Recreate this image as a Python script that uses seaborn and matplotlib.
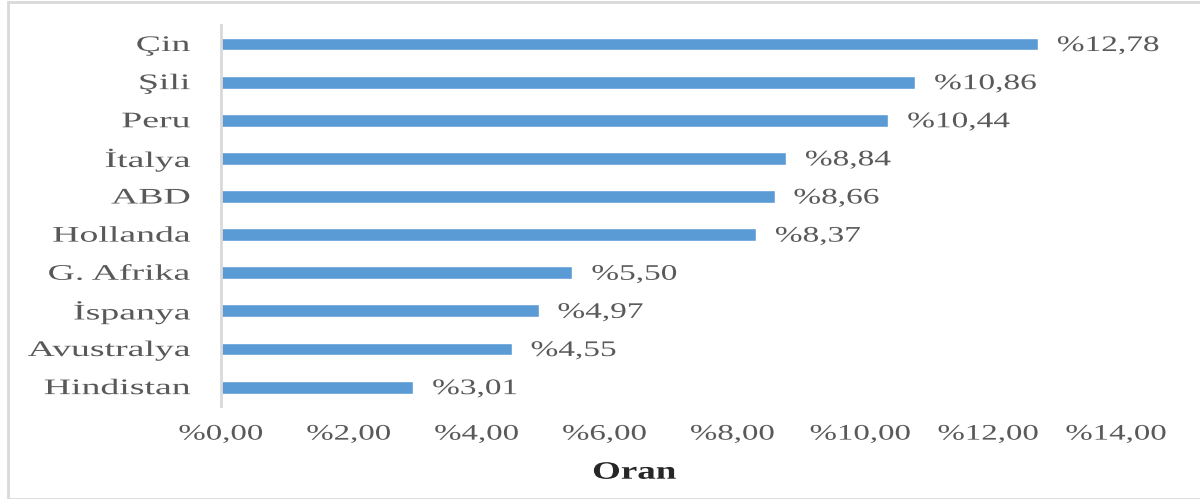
import pandas as pd
import seaborn as sns
import matplotlib.pyplot as plt
from matplotlib.patches import Rectangle
from matplotlib.patheffects import AbstractPathEffect
from matplotlib.transforms import Affine2D

# data
ulkeler = ["Çin", "Şili", "Peru", "İtalya", "ABD", "Hollanda",
           "G. Afrika", "İspanya", "Avustralya", "Hindistan"]
oranlar = [12.78, 10.86, 10.44, 8.84, 8.66, 8.37, 5.50, 4.97, 4.55, 3.01]
xticks = [0, 2, 4, 6, 8, 10, 12, 14]

df = pd.DataFrame({"Ulke": ulkeler, "Oran": oranlar})


class Stretch(AbstractPathEffect):
    # widens text horizontally, the original fonts look stretched
    def __init__(self, sx, anchor="left"):
        super().__init__()
        self.sx = sx
        self.anchor = anchor

    def draw_path(self, renderer, gc, tpath, affine, rgbFace=None):
        ext = tpath.get_extents(affine)
        if self.anchor == "left":
            x0 = ext.x0
        elif self.anchor == "right":
            x0 = ext.x1
        else:
            x0 = (ext.x0 + ext.x1) / 2
        t = affine + Affine2D().translate(-x0, 0).scale(self.sx, 1).translate(x0, 0)
        renderer.draw_path(gc, tpath, t, rgbFace)


sns.set_style("white")
plt.rcParams["font.family"] = ["Liberation Serif", "DejaVu Serif"]

gri = "#595959"
fig = plt.figure(figsize=(12, 4.99), dpi=100)
ax = fig.add_axes([0.184, 0.186, 0.746, 0.764])

sns.barplot(data=df, x="Oran", y="Ulke", color="#5B9BD5", width=0.34,
            saturation=1, ax=ax)

for i, v in enumerate(oranlar):
    ax.text(v + 0.3, i, "%" + f"{v:.2f}".replace(".", ","), va="center_baseline",
            ha="left", fontsize=16, color=gri,
            path_effects=[Stretch(1.5, "left")])

ax.set_xlim(0, 14)
ax.set_ylim(9.5, -0.5)
ax.set_xticks(xticks)
ax.set_xticklabels(["%" + f"{t:.2f}".replace(".", ",") for t in xticks],
                   fontsize=16, color=gri)
ax.tick_params(axis="x", length=0, pad=14)
ax.tick_params(axis="y", length=0, pad=22, labelsize=16, labelcolor=gri)
for lbl in ax.get_xticklabels():
    lbl.set_path_effects([Stretch(1.48, "center")])
for lbl in ax.get_yticklabels():
    lbl.set_path_effects([Stretch(1.7, "right")])

ax.set_ylabel("")
ax.set_xlabel("Oran", fontsize=18, fontweight="bold", color="#262626",
              path_effects=[Stretch(1.48, "center")])
ax.xaxis.set_label_coords(0.462, -0.143)

for s in ["top", "right", "bottom"]:
    ax.spines[s].set_visible(False)
ax.spines["left"].set_color("#D9D9D9")
ax.spines["left"].set_linewidth(2)

fig.patches.append(Rectangle((0.007, 0.0), 0.995, 0.996, transform=fig.transFigure,
                             fill=False, edgecolor="#D9D9D9", linewidth=2))

fig.savefig("out.png", dpi=100)
